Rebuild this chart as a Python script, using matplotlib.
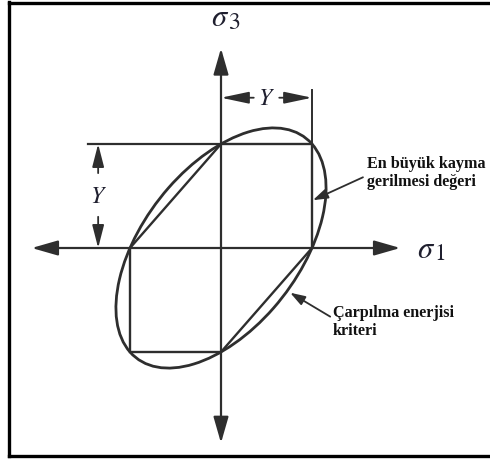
import numpy as np
import matplotlib
matplotlib.use("Agg")
import matplotlib.pyplot as plt
from matplotlib.patches import Ellipse, Polygon
from matplotlib.lines import Line2D

plt.rcParams['mathtext.fontset'] = 'stix'

# yield strength, everything is in units of Y
Y = 1.0

# Tresca hexagon in the sigma1-sigma3 plane
tresca_s1 = [Y, Y, 0, -Y, -Y, 0]
tresca_s3 = [0, Y, Y, 0, -Y, -Y]

# von Mises ellipse: s1^2 - s1*s3 + s3^2 = Y^2
mises_major = 2 * np.sqrt(2) * Y
mises_minor = 2 * np.sqrt(2.0 / 3.0) * Y
mises_angle = 45

label_tresca = "En büyük kayma\ngerilmesi değeri"
label_mises = "Çarpılma enerjisi\nkriteri"

INK = "#2e2e2e"
TXT = "#1f1f2f"
W, H = 490, 459
OX, OY = 221, 248      # pixel position of the origin
SX, SY = 91, 104       # pixels per Y along each axis

fig = plt.figure(figsize=(W / 100, H / 100), dpi=100)
ax = fig.add_axes([0, 0, 1, 1])
ax.set_xlim(-OX / SX, (W - OX) / SX)
ax.set_ylim(-(H - OY) / SY, OY / SY)
ax.axis("off")


def px(x, y):
    # pixel position -> data coordinates
    return (x - OX) / SX, (OY - y) / SY


def arrow(x0, y0, x1, y1, hl=16, hw=4.6, lw=1.6):
    ax.annotate("", xy=(x1, y1), xytext=(x0, y0),
                arrowprops=dict(arrowstyle="-|>,head_length=%g,head_width=%g" % (hl / 10, hw / 10),
                                mutation_scale=10, color=INK, lw=lw,
                                shrinkA=0, shrinkB=0))


def sigma_label(x, y, sub):
    ax.text(*px(x, y), r"$\sigma$", fontsize=22, color=TXT, ha="left", va="center")
    ax.text(*px(x + 17, y + 4), r"$\mathit{%s}$" % sub, fontsize=17, color=TXT,
            ha="left", va="center")


# coordinate axes with arrows on both ends
arrow(0, 0, -2.08, 0)
arrow(0, 0, 1.97, 0)
arrow(0, 0, 0, 1.92)
arrow(0, 0, 0, -1.875)

sigma_label(417, 249, "1")
sigma_label(211, 18, "3")

# Tresca hexagon
ax.add_patch(Polygon(np.column_stack([tresca_s1, tresca_s3]), closed=True,
                     fill=False, ec=INK, lw=1.7))

# von Mises ellipse
ax.add_patch(Ellipse((0, 0), mises_major, mises_minor, angle=mises_angle,
                     fill=False, ec=INK, lw=2.0))

# extension lines for the Y dimensions
ax.plot([-1.46, 0], [Y, Y], color=INK, lw=1.6)
ax.plot([Y, Y], [Y, 1.52], color=INK, lw=1.4)

# horizontal Y dimension
dy = 1.445
arrow(0.36, dy, 0.0, dy, hl=17, hw=3.6, lw=1.3)
arrow(0.64, dy, Y, dy, hl=17, hw=3.6, lw=1.3)
ax.text(0.5, dy, "$Y$", fontsize=17, color=TXT, ha="center", va="center")

# vertical Y dimension
dx = -1.35
arrow(dx, 0.72, dx, Y, hl=14, hw=3.6, lw=1.3)
arrow(dx, 0.30, dx, 0, hl=14, hw=3.6, lw=1.3)
ax.text(dx, 0.5, "$Y$", fontsize=17, color=TXT, ha="center", va="center")

# leader lines to the two curves
arrow(1.56, 0.68, Y + 0.01, 0.46, hl=9, hw=3.0, lw=1.3)
arrow(1.20, -0.66, 0.76, -0.43, hl=9, hw=3.0, lw=1.3)

ax.text(*px(367, 173), label_tresca, fontsize=11.6,
        family="Liberation Serif", weight="bold", color="#111",
        ha="left", va="center", linespacing=1.2)
ax.text(*px(333, 322), label_mises, fontsize=11.6,
        family="Liberation Serif", weight="bold", color="#111",
        ha="left", va="center", linespacing=1.2)

# frame around the drawing (right edge falls outside the image)
for xs, ys in [((9, 9), (2, 456)), ((9, W), (2.5, 2.5)), ((9, W), (455.5, 455.5))]:
    fig.add_artist(Line2D([x / W for x in xs], [1 - y / H for y in ys],
                          transform=fig.transFigure, color="black", lw=2.4))

fig.savefig("out.png", dpi=100)
